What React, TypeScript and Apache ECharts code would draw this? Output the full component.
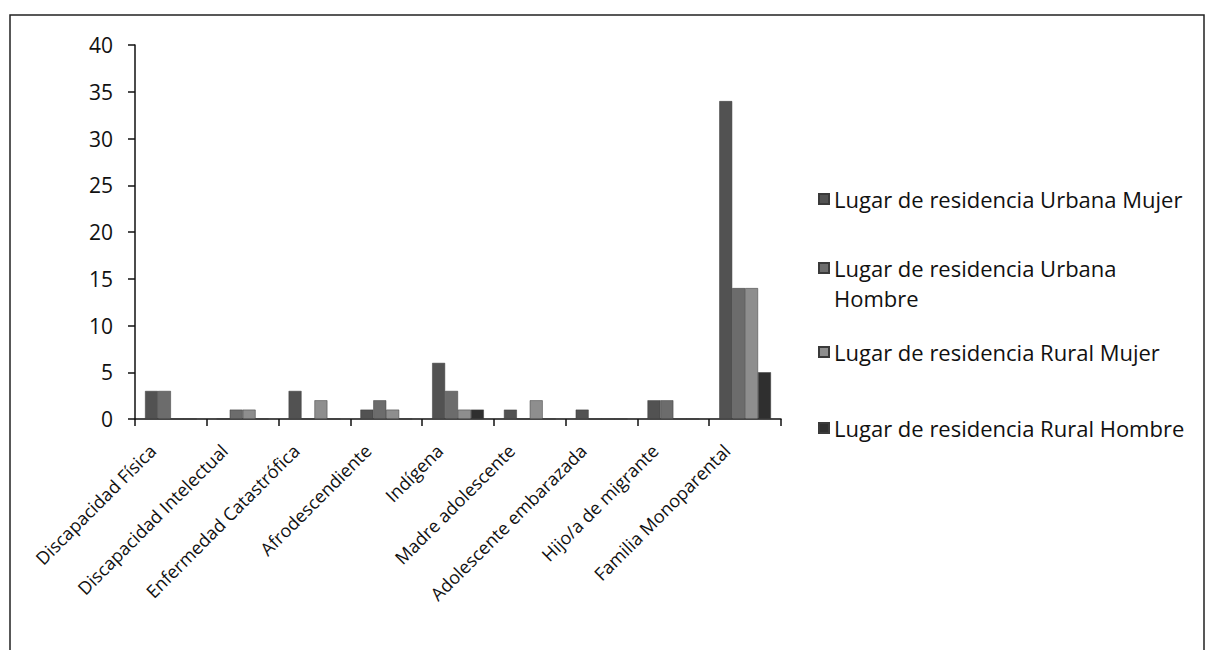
import React, { useEffect, useRef } from "react";
import * as echarts from "echarts";

const categories = [
  "Discapacidad Física",
  "Discapacidad Intelectual",
  "Enfermedad Catastrófica",
  "Afrodescendiente",
  "Indígena",
  "Madre adolescente",
  "Adolescente embarazada",
  "Hijo/a de migrante",
  "Familia Monoparental",
];

const seriesNames = [
  "Lugar de residencia Urbana Mujer",
  "Lugar de residencia Urbana Hombre",
  "Lugar de residencia Rural Mujer",
  "Lugar de residencia Rural Hombre",
];

const urbanaMujer = [3, 0, 3, 1, 6, 1, 1, 2, 34];
const urbanaHombre = [3, 1, 0, 2, 3, 0, 0, 2, 14];
const ruralMujer = [0, 1, 2, 1, 1, 2, 0, 0, 14];
const ruralHombre = [0, 0, 0, 0, 1, 0, 0, 0, 5];

const yTicks = { min: 0, max: 40, interval: 5 };

const colors = ["#525252", "#6c6c6c", "#8e8e8e", "#2f2f2f"];
const FONT = "'Open Sans'";

export default function App() {
  const ref = useRef<HTMLDivElement>(null);
  useEffect(() => {
    document.body.style.margin = "0";
    const chart = echarts.init(ref.current!, null, { renderer: "svg" });
    const values = [urbanaMujer, urbanaHombre, ruralMujer, ruralHombre];
    const legendCenters = [199, 268, 352, 428];
    const LH = 30;
    chart.setOption({
      animation: false,
      backgroundColor: "#ffffff",
      textStyle: { fontFamily: FONT, color: "#111" },
      grid: { left: 135, right: 426, top: 45, bottom: 231, containLabel: false },
      legend: seriesNames.map((n, i) => ({
        data: [n],
        left: 818,
        top: legendCenters[i] - (i === 1 ? LH * 1.5 : LH / 2),
        orient: "vertical",
        itemWidth: 10,
        itemHeight: 10,
        itemGap: 0,
        padding: 0,
        icon: "rect",
        selectedMode: false,
        formatter: i === 1 ? () => " \nLugar de residencia Urbana\nHombre" : undefined,
        textStyle: {
          fontFamily: FONT,
          fontSize: 22,
          color: "#111",
          lineHeight: LH,
        },
      })),
      xAxis: {
        type: "category",
        data: categories,
        axisLine: { lineStyle: { color: "#111", width: 1.5 } },
        axisTick: { show: true, length: 7, lineStyle: { color: "#111", width: 1.5 } },
        axisLabel: {
          rotate: 45,
          interval: 0,
          fontSize: 18,
          fontFamily: FONT,
          color: "#111",
          margin: 10,
          padding: [0, 26, 0, 0],
        },
      },
      yAxis: {
        type: "value",
        min: yTicks.min,
        max: yTicks.max,
        interval: yTicks.interval,
        splitLine: { show: false },
        axisLine: { show: true, lineStyle: { color: "#111", width: 1.5 } },
        axisTick: { show: true, length: 7, lineStyle: { color: "#111", width: 1.5 } },
        axisLabel: { fontSize: 21, fontFamily: FONT, color: "#111", margin: 22 },
      },
      series: seriesNames.map((n, i) => ({
        name: n,
        type: "bar",
        data: values[i],
        barGap: "0%",
        barCategoryGap: "28%",
        itemStyle: { color: colors[i], borderColor: "#3a3a3a", borderWidth: 0.5 },
      })),
      graphic: [
        {
          type: "rect",
          shape: { x: 10, y: 15, width: 1194, height: 660 },
          style: { fill: "none", stroke: "#222", lineWidth: 1.5 },
          silent: true,
        },
      ],
    });
    return () => chart.dispose();
  }, []);
  return <div ref={ref} style={{ width: 1207, height: 650 }} />;
}
